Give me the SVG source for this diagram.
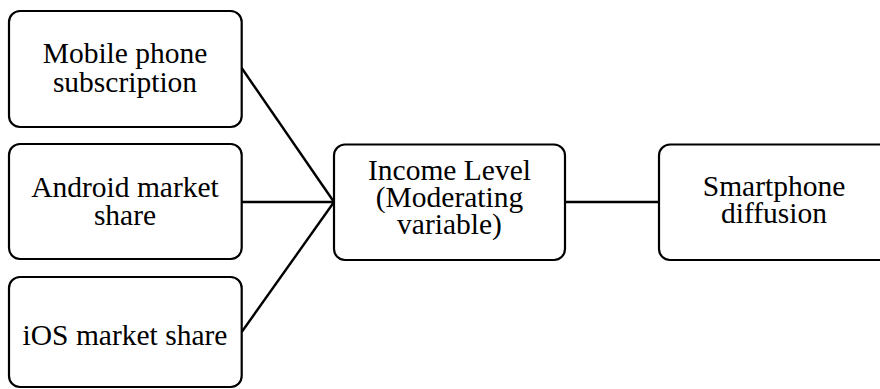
<svg xmlns="http://www.w3.org/2000/svg" width="880" height="389" viewBox="0 0 880 389">
<style>
.box{fill:#fff;stroke:#000;stroke-width:2.2}
.t{font-family:"Liberation Serif","Times New Roman",serif;font-size:29.5px;fill:#000;text-anchor:middle}
.c{stroke:#000;stroke-width:2.4;fill:none}
</style>
<rect width="880" height="389" fill="#fff"/>
<g id="connectors">
<line class="c" x1="241.7" y1="68" x2="334" y2="202"/>
<line class="c" x1="241.7" y1="202" x2="334" y2="202"/>
<line class="c" x1="241.7" y1="332" x2="334" y2="202"/>
<line class="c" x1="565" y1="202" x2="659" y2="202"/>
</g>
<g id="mobile">
<rect class="box" x="9" y="11" width="232.7" height="116" rx="11"/>
<text class="t" x="125" y="63">Mobile phone</text>
<text class="t" x="125" y="92">subscription</text>
</g>
<g id="android">
<rect class="box" x="9" y="144" width="232.7" height="115" rx="11"/>
<text class="t" x="125" y="197">Android market</text>
<text class="t" x="125" y="225">share</text>
</g>
<g id="ios">
<rect class="box" x="9" y="277" width="232.7" height="110" rx="11"/>
<text class="t" x="125" y="345">iOS market share</text>
</g>
<g id="income">
<rect class="box" x="334" y="144.5" width="231" height="115.5" rx="11"/>
<text class="t" x="449.5" y="180">Income Level</text>
<text class="t" x="449.5" y="207">(Moderating</text>
<text class="t" x="449.5" y="234">variable)</text>
</g>
<g id="smartphone">
<rect class="box" x="659" y="144.5" width="232" height="115.5" rx="11"/>
<text class="t" x="774" y="196">Smartphone</text>
<text class="t" x="774" y="223">diffusion</text>
</g>
</svg>
